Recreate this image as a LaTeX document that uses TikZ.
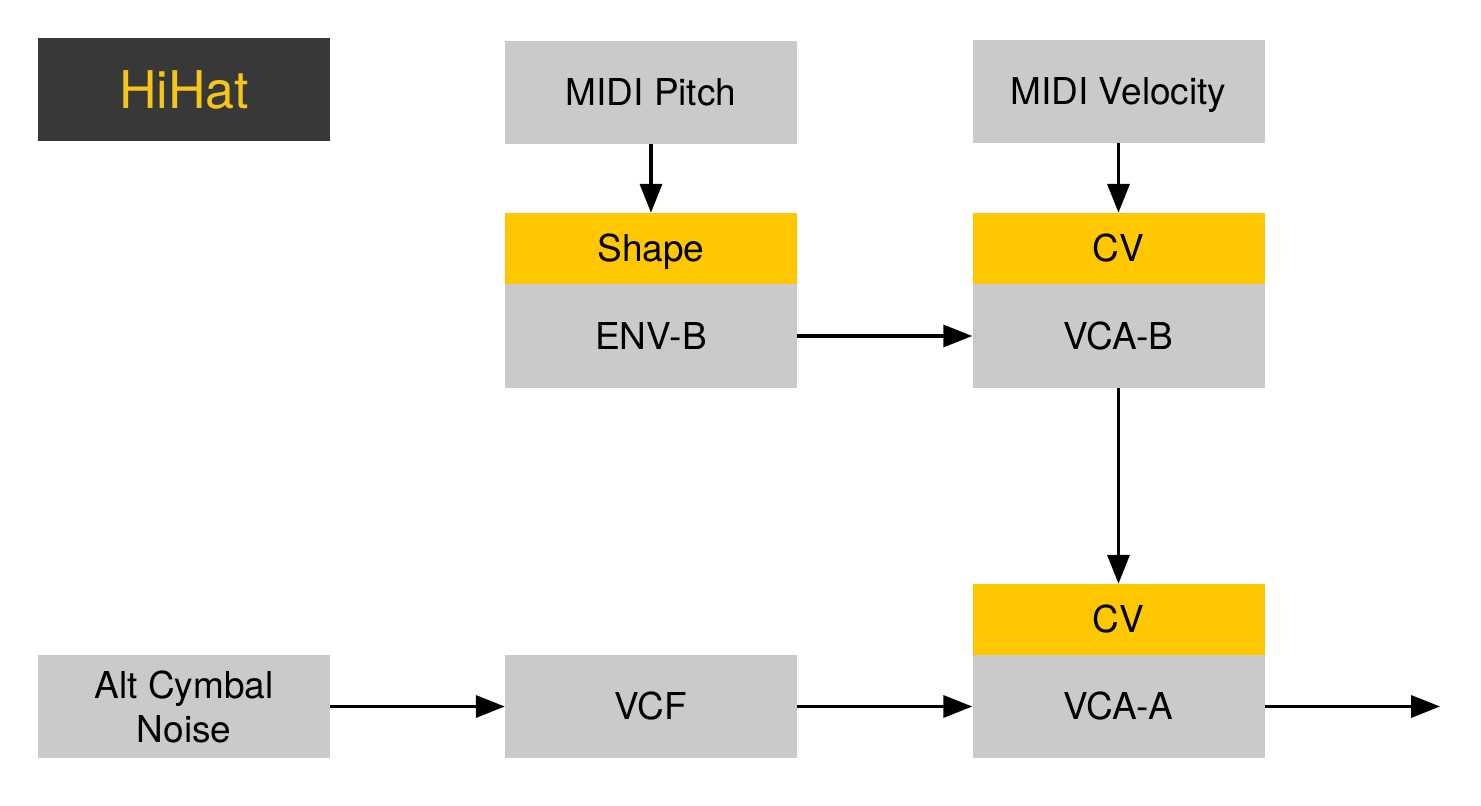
\documentclass[tikz,border=0pt]{standalone}
\usepackage{fontspec}
\setmainfont{TeX Gyre Heros}
\usetikzlibrary{arrows.meta}
\definecolor{boxgrey}{HTML}{C8CACC}
\definecolor{boxyellow}{HTML}{FFC700}
\definecolor{darkbox}{HTML}{383838}
\definecolor{titleyellow}{HTML}{F5C518}
\tikzset{
  boxtext/.style={font=\fontsize{37}{44}\selectfont, text height=26pt, text depth=0pt},
  greybox/.style={fill=boxgrey, draw=none, minimum width=292pt, minimum height=103pt, inner sep=0pt, align=center, boxtext},
  yellowbox/.style={fill=boxyellow, draw=none, minimum width=292pt, minimum height=71pt, inner sep=0pt, align=center, boxtext},
  titlebox/.style={fill=darkbox, draw=none, minimum width=292pt, minimum height=103pt, inner sep=0pt, text=titleyellow, font=\fontsize{52}{60}\selectfont, text height=37pt, text depth=0pt},
  flow/.style={line width=3.5pt, -{Triangle[length=29pt,width=22pt]}}
}
\begin{document}
\begin{tikzpicture}[x=1pt,y=-1pt]
\useasboundingbox (0,0) rectangle (1481,806);
\node[titlebox] (hihat) at (184,89.5) {HiHat};
\node[greybox] (pitch) at (651,92.5) {MIDI Pitch};
\node[greybox] (vel) at (1118.5,91.5) {MIDI Velocity};
\node[yellowbox] (shape) at (651,248.5) {Shape};
\node[greybox, minimum height=104pt] (envb) at (651,336) {ENV-B};
\node[yellowbox] (cv1) at (1118.5,248.5) {CV};
\node[greybox, minimum height=104pt] (vcab) at (1118.5,336) {VCA-B};
\node[yellowbox] (cv2) at (1118.5,619.5) {CV};
\node[greybox] (vcaa) at (1118.5,706.5) {VCA-A};
\node[greybox, text height=, text depth=] (alt) at (184,706.5) {Alt Cymbal\\Noise};
\node[greybox] (vcf) at (651,706.5) {VCF};
\coordinate (out) at (1440,706.5);
\draw[flow] (pitch.south) -- (shape.north);
\draw[flow] (vel.south) -- (cv1.north);
\draw[flow] (envb.east) -- (vcab.west);
\draw[flow] (vcab.south) -- (cv2.north);
\draw[flow] (alt.east) -- (vcf.west);
\draw[flow] (vcf.east) -- (vcaa.west);
\draw[flow] (vcaa.east) -- (out);
\end{tikzpicture}
\end{document}
